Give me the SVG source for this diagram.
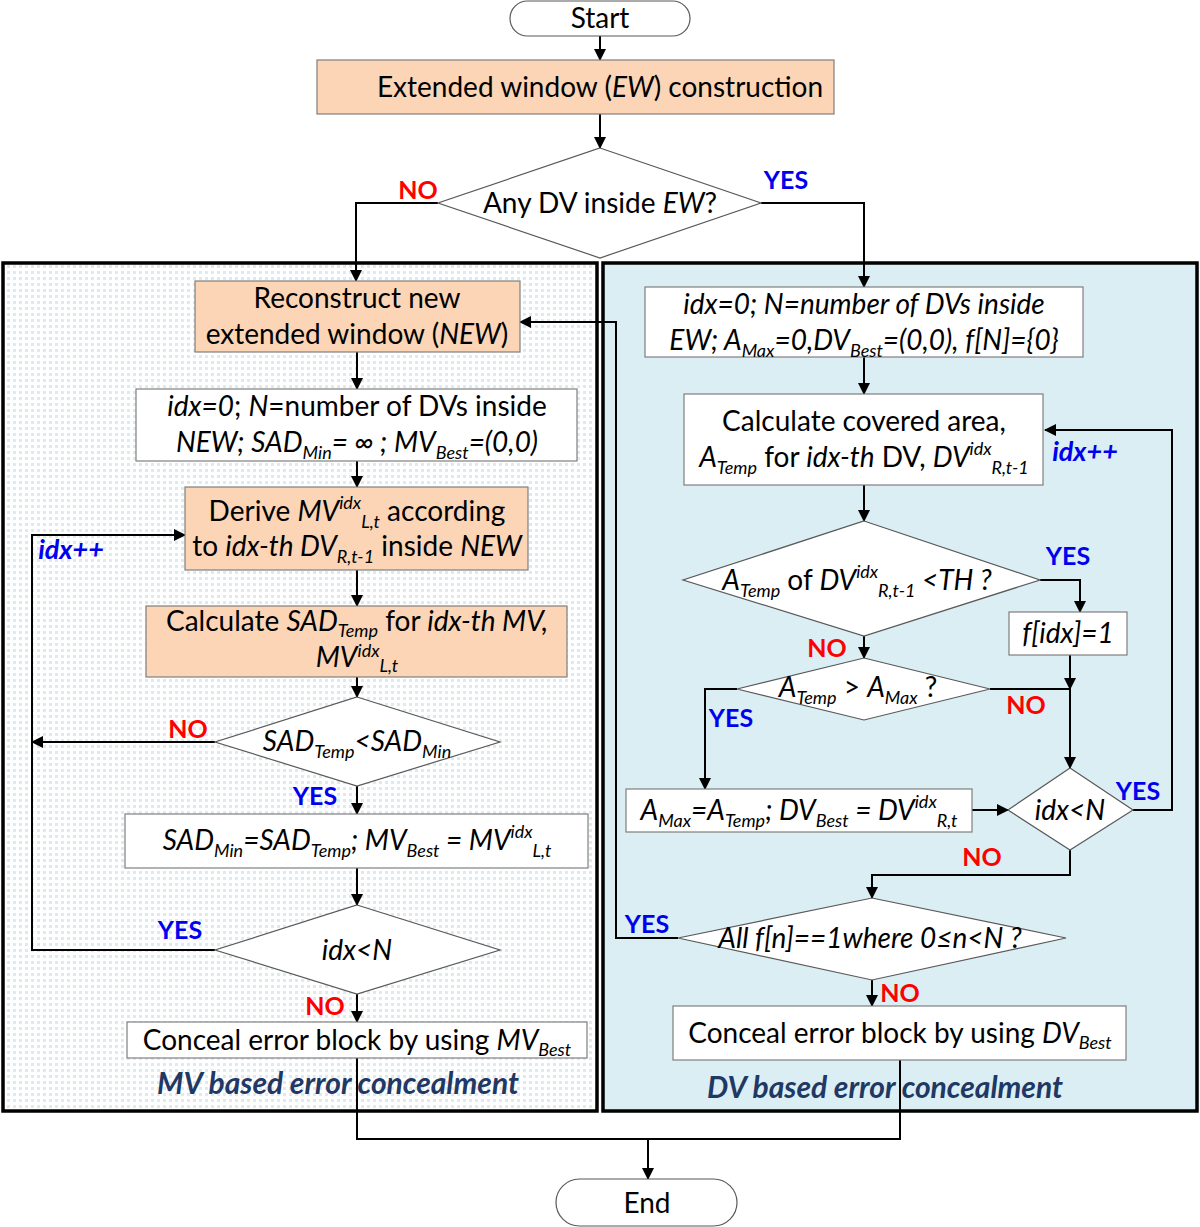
<svg xmlns="http://www.w3.org/2000/svg" width="1200" height="1227" viewBox="0 0 1200 1227">
<style>
.t{font-family:"Lato","Liberation Sans",sans-serif;font-size:28px;fill:#000;text-anchor:middle}
.i{font-style:italic}
.s{font-size:18px}
.lab{font-family:"Lato","Liberation Sans",sans-serif;font-size:25px;font-weight:bold;text-anchor:middle}
.no{fill:#FF0000}
.yes{fill:#0000EE}
.inc{fill:#0000EE;font-style:italic;font-size:27px}
.cap{fill:#1F3864;font-weight:bold;font-style:italic;font-size:30px}
.peach{fill:#FBD5B5;stroke:#7F7F7F;stroke-width:1.2}
.wbox{fill:#FFFFFF;stroke:#7F7F7F;stroke-width:1.2}
.dia{fill:#FFFFFF;stroke:#595959;stroke-width:1.2}
.term{fill:#FFFFFF;stroke:#595959;stroke-width:1.2}
.c{fill:none;stroke:#000;stroke-width:2}
.panel{stroke:#000;stroke-width:3.5}
</style>
<defs>
<marker id="a" markerUnits="userSpaceOnUse" markerWidth="12" markerHeight="12" refX="11" refY="6" orient="auto">
<path d="M0,0 L12,6 L0,12 z" fill="#000"/>
</marker>
<pattern id="dots" width="6" height="6" patternUnits="userSpaceOnUse">
<rect width="6" height="6" fill="#FFFFFF"/>
<rect x="1" y="1" width="3" height="3" fill="#DDEBF0"/>
</pattern>
</defs>
<rect width="1200" height="1227" fill="#FFFFFF"/>
<g id="panels">
<rect id="panel-mv" class="panel" x="3" y="263" width="594" height="848" fill="url(#dots)"/>
<rect id="panel-dv" class="panel" x="603" y="263" width="594" height="848" fill="#DAEEF3"/>
</g>
<g id="connectors">
<path class="c" d="M600,36 V60" marker-end="url(#a)"/>
<path class="c" d="M600,114 V148" marker-end="url(#a)"/>
<path class="c" d="M438,203 H356 V281" marker-end="url(#a)"/>
<path class="c" d="M761,203 H864 V287" marker-end="url(#a)"/>
<path class="c" d="M357,352 V389" marker-end="url(#a)"/>
<path class="c" d="M357,461 V487" marker-end="url(#a)"/>
<path class="c" d="M357,570 V606" marker-end="url(#a)"/>
<path class="c" d="M357,677 V697" marker-end="url(#a)"/>
<path class="c" d="M215,742 H32" marker-end="url(#a)"/>
<path class="c" d="M357,786 V814" marker-end="url(#a)"/>
<path class="c" d="M357,868 V905" marker-end="url(#a)"/>
<path class="c" d="M215,950 H32 V535 H185" marker-end="url(#a)"/>
<path class="c" d="M357,994 V1022" marker-end="url(#a)"/>
<path class="c" d="M357,1058 V1139 H900 V1060"/>
<path class="c" d="M648,1139 V1179" marker-end="url(#a)"/>
<path class="c" d="M864,357 V394" marker-end="url(#a)"/>
<path class="c" d="M864,485 V521" marker-end="url(#a)"/>
<path class="c" d="M1040,580 H1080 V612" marker-end="url(#a)"/>
<path class="c" d="M1070,655 V689" marker-end="url(#a)"/>
<path class="c" d="M990,689 H1070 V768" marker-end="url(#a)"/>
<path class="c" d="M864,636 V658" marker-end="url(#a)"/>
<path class="c" d="M737,689 H705 V789" marker-end="url(#a)"/>
<path class="c" d="M972,810 H1008" marker-end="url(#a)"/>
<path class="c" d="M1133,810 H1172 V430 H1045" marker-end="url(#a)"/>
<path class="c" d="M1070,850 V875 H872 V898" marker-end="url(#a)"/>
<path class="c" d="M678,938 H616 V322 H520" marker-end="url(#a)"/>
<path class="c" d="M872,980 V1006" marker-end="url(#a)"/>
</g>
<g id="start">
<rect class="term" x="510" y="1" width="180" height="35" rx="17.5"/>
<text class="t" x="600" y="28">Start</text>
</g>
<g id="ew-construction">
<rect class="peach" x="317" y="60" width="517" height="54"/>
<text class="t" x="600" y="97">Extended window (<tspan class="i">EW</tspan>) construction</text>
</g>
<g id="any-dv">
<polygon class="dia" points="600,148 761,203 600,258 438,203"/>
<text class="t" x="600" y="213">Any DV inside <tspan class="i">EW</tspan>?</text>
</g>
<g id="reconstruct">
<rect class="peach" x="195" y="281" width="325" height="71"/>
<text class="t" x="357" y="308">Reconstruct new</text>
<text class="t" x="357" y="344">extended window (<tspan class="i">NEW</tspan>)</text>
</g>
<g id="init-mv">
<rect class="wbox" x="136" y="389" width="441" height="72"/>
<text class="t" x="357" y="416"><tspan class="i">idx=0</tspan>; <tspan class="i">N</tspan>=number of DVs inside</text>
<text class="t i" x="357" y="452">NEW; SAD<tspan class="s" dy="7">Min</tspan><tspan dy="-7">= ∞ ; MV</tspan><tspan class="s" dy="7">Best</tspan><tspan dy="-7">=(0,0)</tspan></text>
</g>
<g id="derive">
<rect class="peach" x="185" y="487" width="343" height="83"/>
<text class="t" x="357" y="521">Derive <tspan class="i">MV</tspan><tspan class="s i" dy="-12">idx</tspan><tspan class="s i" dy="19">L,t</tspan><tspan dy="-7"> according</tspan></text>
<text class="t" x="357" y="556">to <tspan class="i">idx-th DV</tspan><tspan class="s i" dy="7">R,t-1</tspan><tspan dy="-7"> inside </tspan><tspan class="i">NEW</tspan></text>
</g>
<g id="calc-sad">
<rect class="peach" x="146" y="606" width="421" height="71"/>
<text class="t" x="357" y="631">Calculate <tspan class="i">SAD</tspan><tspan class="s i" dy="6">Temp</tspan><tspan dy="-6"> for </tspan><tspan class="i">idx-th MV,</tspan></text>
<text class="t i" x="357" y="667">MV<tspan class="s" dy="-10">idx</tspan><tspan class="s" dy="15">L,t</tspan></text>
</g>
<g id="sad-cmp">
<polygon class="dia" points="357,697 500,742 357,786 215,742"/>
<text class="t i" x="357" y="751">SAD<tspan class="s" dy="7">Temp</tspan><tspan dy="-7">&lt;SAD</tspan><tspan class="s" dy="7">Min</tspan></text>
</g>
<g id="update-mv">
<rect class="wbox" x="125" y="814" width="463" height="54"/>
<text class="t i" x="357" y="850">SAD<tspan class="s" dy="7">Min</tspan><tspan dy="-7">=SAD</tspan><tspan class="s" dy="7">Temp</tspan><tspan dy="-7">; MV</tspan><tspan class="s" dy="7">Best</tspan><tspan dy="-7"> = MV</tspan><tspan class="s" dy="-12">idx</tspan><tspan class="s" dy="19">L,t</tspan></text>
</g>
<g id="mv-loop">
<polygon class="dia" points="357,905 500,950 357,994 215,950"/>
<text class="t i" x="357" y="960">idx&lt;N</text>
</g>
<g id="conceal-mv">
<rect class="wbox" x="127" y="1022" width="460" height="36"/>
<text class="t" x="357" y="1050">Conceal error block by using <tspan class="i">MV</tspan><tspan class="s i" dy="6">Best</tspan></text>
</g>
<g id="init-dv">
<rect class="wbox" x="645" y="287" width="438" height="70"/>
<text class="t i" x="864" y="314">idx=0; N=number of DVs inside</text>
<text class="t i" x="864" y="350">EW; A<tspan class="s" dy="7">Max</tspan><tspan dy="-7">=0,DV</tspan><tspan class="s" dy="7">Best</tspan><tspan dy="-7">=(0,0), f[N]={0}</tspan></text>
</g>
<g id="calc-area">
<rect class="wbox" x="684" y="394" width="359" height="91"/>
<text class="t" x="864" y="431">Calculate covered area,</text>
<text class="t" x="864" y="467"><tspan class="i">A</tspan><tspan class="s i" dy="7">Temp</tspan><tspan dy="-7">  for </tspan><tspan class="i">idx-th</tspan> DV, <tspan class="i">DV</tspan><tspan class="s i" dy="-12">idx</tspan><tspan class="s i" dy="19">R,t-1</tspan></text>
</g>
<g id="th-cmp">
<polygon class="dia" points="864,521 1040,580 864,636 683,580"/>
<text class="t" x="857" y="590"><tspan class="i">A</tspan><tspan class="s i" dy="7">Temp</tspan><tspan dy="-7"> of </tspan><tspan class="i">DV</tspan><tspan class="s i" dy="-12">idx</tspan><tspan class="s i" dy="19">R,t-1</tspan><tspan class="i" dy="-7"> &lt;TH ?</tspan></text>
</g>
<g id="set-flag">
<rect class="wbox" x="1009" y="612" width="118" height="43"/>
<text class="t i" x="1068" y="643">f[idx]=1</text>
</g>
<g id="max-cmp">
<polygon class="dia" points="864,658 990,689 864,720 737,689"/>
<text class="t" x="858" y="697"><tspan class="i">A</tspan><tspan class="s i" dy="7">Temp</tspan><tspan dy="-7"> &gt; </tspan><tspan class="i">A</tspan><tspan class="s i" dy="7">Max</tspan><tspan dy="-7"> ?</tspan></text>
</g>
<g id="update-dv">
<rect class="wbox" x="626" y="789" width="346" height="43"/>
<text class="t i" x="799" y="820">A<tspan class="s" dy="7">Max</tspan><tspan dy="-7">=A</tspan><tspan class="s" dy="7">Temp</tspan><tspan dy="-7">; DV</tspan><tspan class="s" dy="7">Best</tspan><tspan dy="-7"> = DV</tspan><tspan class="s" dy="-12">idx</tspan><tspan class="s" dy="19">R,t</tspan></text>
</g>
<g id="dv-loop">
<polygon class="dia" points="1070,768 1133,810 1070,850 1008,810"/>
<text class="t i" x="1070" y="820">idx&lt;N</text>
</g>
<g id="all-flags">
<polygon class="dia" points="872,898 1066,938 872,980 678,938"/>
<text class="t i" x="870" y="948">All f[n]==1where 0≤n&lt;N ?</text>
</g>
<g id="conceal-dv">
<rect class="wbox" x="673" y="1006" width="453" height="54"/>
<text class="t" x="900" y="1043">Conceal error block by using <tspan class="i">DV</tspan><tspan class="s i" dy="6">Best</tspan></text>
</g>
<g id="end">
<rect class="term" x="556" y="1179" width="181" height="47" rx="23.5"/>
<text class="t" x="647" y="1213">End</text>
</g>
<g id="labels">
<text class="lab no" x="418" y="199">NO</text>
<text class="lab yes" x="786" y="189">YES</text>
<text class="lab no" x="188" y="738">NO</text>
<text class="lab yes" x="315" y="805">YES</text>
<text class="lab yes" x="180" y="939">YES</text>
<text class="lab no" x="325" y="1015">NO</text>
<text class="lab inc" x="71" y="559">idx++</text>
<text class="lab yes" x="1068" y="565">YES</text>
<text class="lab no" x="827" y="657">NO</text>
<text class="lab no" x="1026" y="714">NO</text>
<text class="lab yes" x="731" y="727">YES</text>
<text class="lab yes" x="1138" y="800">YES</text>
<text class="lab no" x="982" y="866">NO</text>
<text class="lab yes" x="647" y="933">YES</text>
<text class="lab no" x="900" y="1002">NO</text>
<text class="lab inc" x="1085" y="461">idx++</text>
<text class="t cap" x="338" y="1094">MV based error concealment</text>
<text class="t cap" x="885" y="1098">DV based error concealment</text>
</g>
</svg>
